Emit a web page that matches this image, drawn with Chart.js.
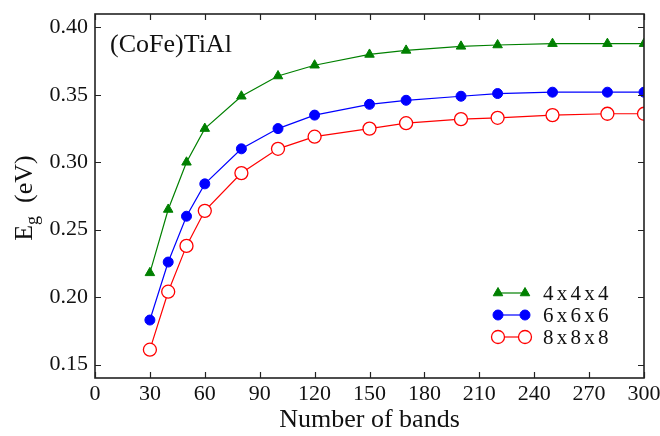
<!DOCTYPE html>
<html>
<head>
<meta charset="utf-8">
<style>
  html, body { margin: 0; padding: 0; background: #fff; }
  #wrap { width: 660px; height: 436px; position: relative; }
</style>
<script src="https://cdn.jsdelivr.net/npm/chart.js@4/dist/chart.umd.min.js"></script>
</head>
<body>
<div id="wrap"><canvas id="c" width="660" height="436"></canvas></div>
<script>
// ---- data ----
const bands = [30, 40, 50, 60, 80, 100, 120, 150, 170, 200, 220, 250, 280, 300];
const k4 = [0.218, 0.265, 0.300, 0.325, 0.349, 0.364, 0.372, 0.380, 0.383, 0.386, 0.387, 0.388, 0.388, 0.388];
const k6 = [0.183, 0.226, 0.260, 0.284, 0.310, 0.325, 0.335, 0.343, 0.346, 0.349, 0.351, 0.352, 0.352, 0.352];
const k8 = [0.161, 0.204, 0.238, 0.264, 0.292, 0.310, 0.319, 0.325, 0.329, 0.332, 0.333, 0.335, 0.336, 0.336];
const seriesLabels = ['4 x 4 x 4', '6 x 6 x 6', '8 x 8 x 8'];
const xTicks = [0, 30, 60, 90, 120, 150, 180, 210, 240, 270, 300];
const yTicks = [0.15, 0.20, 0.25, 0.30, 0.35, 0.40];
const titleText = '(CoFe)TiAl';
const xTitle = 'Number of bands';

const FONT = "'Liberation Serif', 'Times New Roman', serif";
const GREEN = '#008000', BLUE = '#0000ff', RED = '#ff0000';

const toPts = arr => bands.map((b, i) => ({ x: b, y: arr[i] }));

const frame = {
  id: 'frame',
  afterDatasetsDraw(chart) {
    const { ctx, chartArea: a, scales: { x, y } } = chart;
    ctx.save();
    ctx.strokeStyle = '#222';
    ctx.lineWidth = 1.6;
    ctx.strokeRect(a.left, a.top, a.right - a.left, a.bottom - a.top);
    ctx.lineWidth = 1.2;
    const tl = 6;
    ctx.beginPath();
    xTicks.forEach(v => {
      const px = Math.round(x.getPixelForValue(v)) + 0.5;
      ctx.moveTo(px, a.bottom); ctx.lineTo(px, a.bottom - tl);
      ctx.moveTo(px, a.top); ctx.lineTo(px, a.top + tl);
    });
    yTicks.forEach(v => {
      const py = Math.round(y.getPixelForValue(v)) + 0.5;
      ctx.moveTo(a.left, py); ctx.lineTo(a.left + tl, py);
      ctx.moveTo(a.right, py); ctx.lineTo(a.right - tl, py);
    });
    ctx.stroke();

    // annotation
    ctx.fillStyle = '#111';
    ctx.font = '26px ' + FONT;
    ctx.textBaseline = 'alphabetic';
    ctx.textAlign = 'left';
    ctx.fillText(titleText, 110, 52);

    // x title
    ctx.font = '26px ' + FONT;
    ctx.textAlign = 'center';
    ctx.fillText(xTitle, (a.left + a.right) / 2, 427);

    // y title: E_g (eV), rotated
    ctx.save();
    ctx.translate(32, 198);
    ctx.rotate(-Math.PI / 2);
    ctx.textAlign = 'left';
    const big = '26px ' + FONT, small = '18px ' + FONT;
    ctx.font = big; const wE = ctx.measureText('E').width;
    ctx.font = small; const wg = ctx.measureText('g').width;
    ctx.font = big; const wR = ctx.measureText('  (eV)').width;
    const tot = wE + wg + wR;
    let sx = -tot / 2;
    ctx.font = big; ctx.fillText('E', sx, 0); sx += wE;
    ctx.font = small; ctx.fillText('g', sx, 6); sx += wg;
    ctx.font = big; ctx.fillText('  (eV)', sx, 0);
    ctx.restore();

    // legend
    const ds = chart.data.datasets;
    const rows = [293, 315, 337];
    ctx.font = '21px ' + FONT;
    ctx.textAlign = 'left';
    ctx.textBaseline = 'middle';
    ds.forEach((d, i) => {
      const yy = rows[i];
      const x1 = 498, x2 = 525;
      ctx.strokeStyle = d.borderColor;
      ctx.lineWidth = 1.2;
      ctx.beginPath(); ctx.moveTo(x1, yy); ctx.lineTo(x2, yy); ctx.stroke();
      [x1, x2].forEach(px => {
        ctx.fillStyle = d.pointBackgroundColor;
        ctx.strokeStyle = d.borderColor;
        ctx.lineWidth = d.pointBorderWidth;
        Chart.helpers.drawPoint(ctx, {
          pointStyle: d.pointStyle, radius: d.pointRadius, rotation: 0,
          borderWidth: d.pointBorderWidth
        }, px, yy);
      });
      ctx.fillStyle = '#111';
      ctx.letterSpacing = '-1px';
      ctx.fillText(seriesLabels[i], 543, yy + 1);
      ctx.letterSpacing = '0px';
    });
    ctx.restore();
  }
};

new Chart(document.getElementById('c'), {
  type: 'line',
  data: {
    datasets: [
      { label: seriesLabels[0], data: toPts(k4), borderColor: GREEN, backgroundColor: GREEN,
        pointBackgroundColor: GREEN, pointStyle: 'triangle', pointRadius: 5.5, pointBorderWidth: 1,
        borderWidth: 1.2, tension: 0 },
      { label: seriesLabels[1], data: toPts(k6), borderColor: BLUE, backgroundColor: BLUE,
        pointBackgroundColor: BLUE, pointStyle: 'circle', pointRadius: 5, pointBorderWidth: 1,
        borderWidth: 1.2, tension: 0 },
      { label: seriesLabels[2], data: toPts(k8), borderColor: RED, backgroundColor: '#ffffff',
        pointBackgroundColor: '#ffffff', pointStyle: 'circle', pointRadius: 6.5, pointBorderWidth: 1.3,
        borderWidth: 1.2, tension: 0 }
    ]
  },
  options: {
    responsive: false,
    animation: false,
    devicePixelRatio: 1,
    layout: { padding: { top: 14, right: 16, left: 0, bottom: 0 } },
    plugins: { legend: { display: false }, tooltip: { enabled: false } },
    scales: {
      x: {
        type: 'linear', min: 0, max: 300,
        afterBuildTicks: s => { s.ticks = xTicks.map(v => ({ value: v })); },
        afterFit: s => { s.height = 58; s.paddingLeft = 0; s.paddingRight = 0; },
        ticks: { font: { family: FONT, size: 22 }, color: '#111', padding: 3, maxRotation: 0, autoSkip: false },
        grid: { display: false, drawTicks: false },
        border: { display: false }
      },
      y: {
        type: 'linear', min: 0.14, max: 0.41,
        afterBuildTicks: s => { s.ticks = yTicks.map(v => ({ value: v })); },
        afterFit: s => { s.width = 95; s.paddingTop = 0; s.paddingBottom = 0; },
        ticks: { font: { family: FONT, size: 22 }, color: '#111', padding: 7, autoSkip: false,
                 callback: v => Number(v).toFixed(2) },
        grid: { display: false, drawTicks: false },
        border: { display: false }
      }
    }
  },
  plugins: [frame]
});
</script>
</body>
</html>
